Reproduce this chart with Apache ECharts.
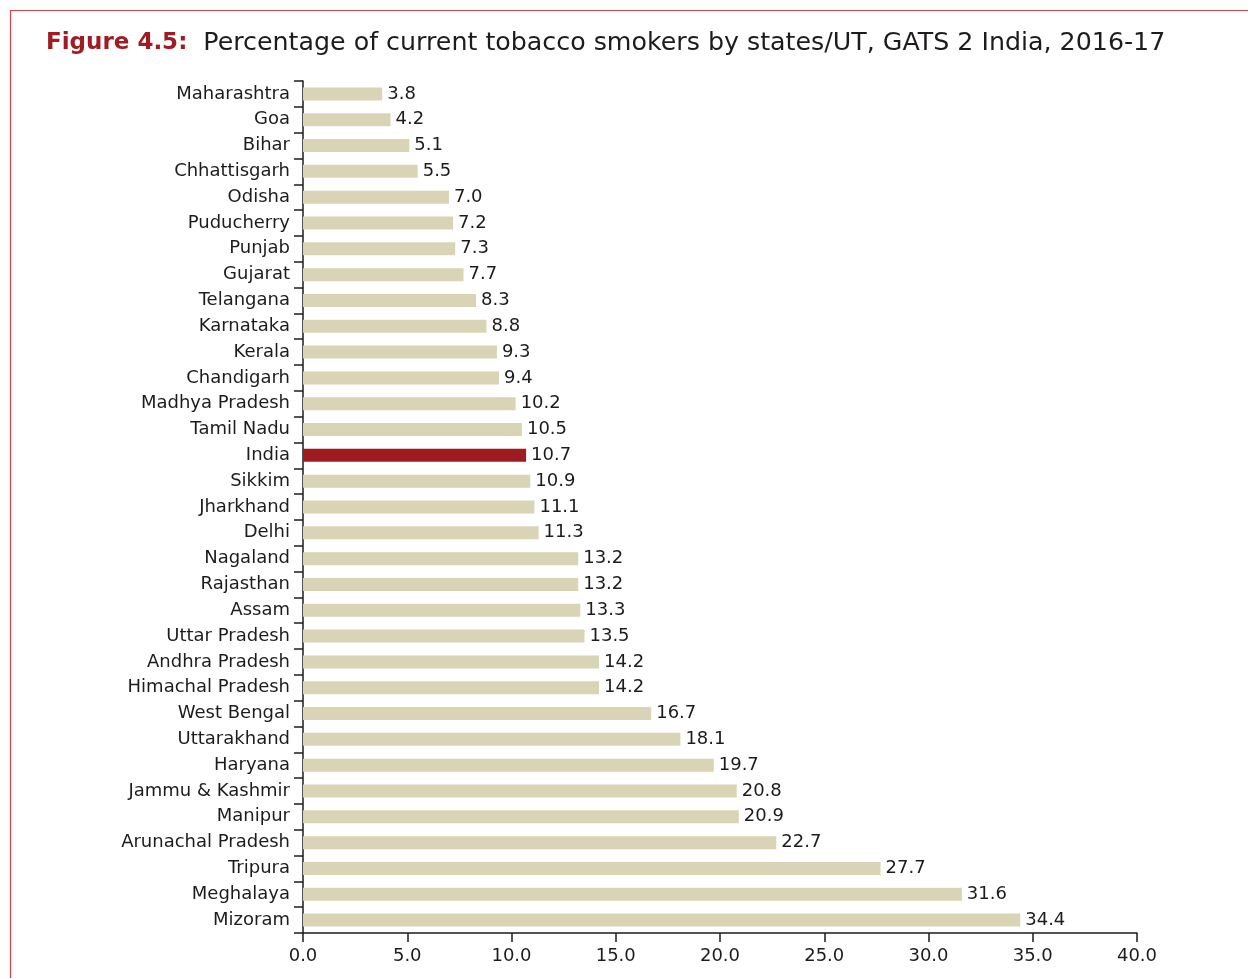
<!DOCTYPE html>
<html>
<head>
<meta charset="utf-8">
<script src="https://cdn.jsdelivr.net/npm/echarts@6/dist/echarts.min.js"></script>
<style>
html,body{margin:0;padding:0;background:#fff;}
#chart{width:1248px;height:978px;}
</style>
</head>
<body>
<div id="chart"></div>
<script>
const categories = ["Maharashtra","Goa","Bihar","Chhattisgarh","Odisha","Puducherry","Punjab","Gujarat","Telangana","Karnataka","Kerala","Chandigarh","Madhya Pradesh","Tamil Nadu","India","Sikkim","Jharkhand","Delhi","Nagaland","Rajasthan","Assam","Uttar Pradesh","Andhra Pradesh","Himachal Pradesh","West Bengal","Uttarakhand","Haryana","Jammu & Kashmir","Manipur","Arunachal Pradesh","Tripura","Meghalaya","Mizoram"];
const values = [3.8,4.2,5.1,5.5,7.0,7.2,7.3,7.7,8.3,8.8,9.3,9.4,10.2,10.5,10.7,10.9,11.1,11.3,13.2,13.2,13.3,13.5,14.2,14.2,16.7,18.1,19.7,20.8,20.9,22.7,27.7,31.6,34.4];
const highlight = "India";
const titleBold = "Figure 4.5:";
const titleText = "Percentage of current tobacco smokers by states/UT, GATS 2 India, 2016-17";

const FONT = "DejaVu Sans";
const chart = echarts.init(document.getElementById('chart'), null, {renderer:'canvas'});
chart.setOption({
  animation:false,
  backgroundColor:'#fff',
  title:{
    left:41, top:26,
    text:'{a|'+titleBold+'}  {b|'+titleText+'}',
    textStyle:{
      rich:{
        a:{fontFamily:FONT,fontWeight:'bold',fontSize:23,color:'#A01C24',padding:[0,6,0,0]},
        b:{fontFamily:FONT,fontWeight:'normal',fontSize:25.3,color:'#1E1B1C'}
      }
    }
  },
  graphic:[{
    type:'rect', silent:true,
    shape:{x:10.5,y:10.5,width:1300,height:1100},
    style:{fill:'none',stroke:'#D0454C',lineWidth:1.2}
  }],
  grid:{left:303,right:111,top:81,bottom:45,containLabel:false},
  xAxis:{
    type:'value', min:0, max:40, interval:5,
    axisLine:{show:true,lineStyle:{color:'#1E1B1C',width:1.5}},
    axisTick:{show:true,length:9,lineStyle:{color:'#1E1B1C',width:1.5}},
    splitLine:{show:false},
    axisLabel:{margin:14,fontFamily:FONT,fontSize:18,color:'#1E1B1C',formatter:v=>v.toFixed(1)}
  },
  yAxis:{
    type:'category', inverse:true, data:categories,
    axisLine:{show:true,lineStyle:{color:'#1E1B1C',width:1.5}},
    axisTick:{show:true,length:9,lineStyle:{color:'#1E1B1C',width:1.5}},
    axisLabel:{margin:13,fontFamily:FONT,fontSize:18,color:'#1E1B1C'}
  },
  series:[{
    type:'bar', barWidth:13,
    data: values.map((v,i)=>({value:v,itemStyle:{color: categories[i]===highlight ? '#9E1B20' : '#D9D4B5'}})),
    label:{show:true,position:'right',distance:5,fontFamily:FONT,fontSize:18,color:'#1E1B1C',formatter:p=>p.value.toFixed(1)}
  }]
});
</script>
</body>
</html>
